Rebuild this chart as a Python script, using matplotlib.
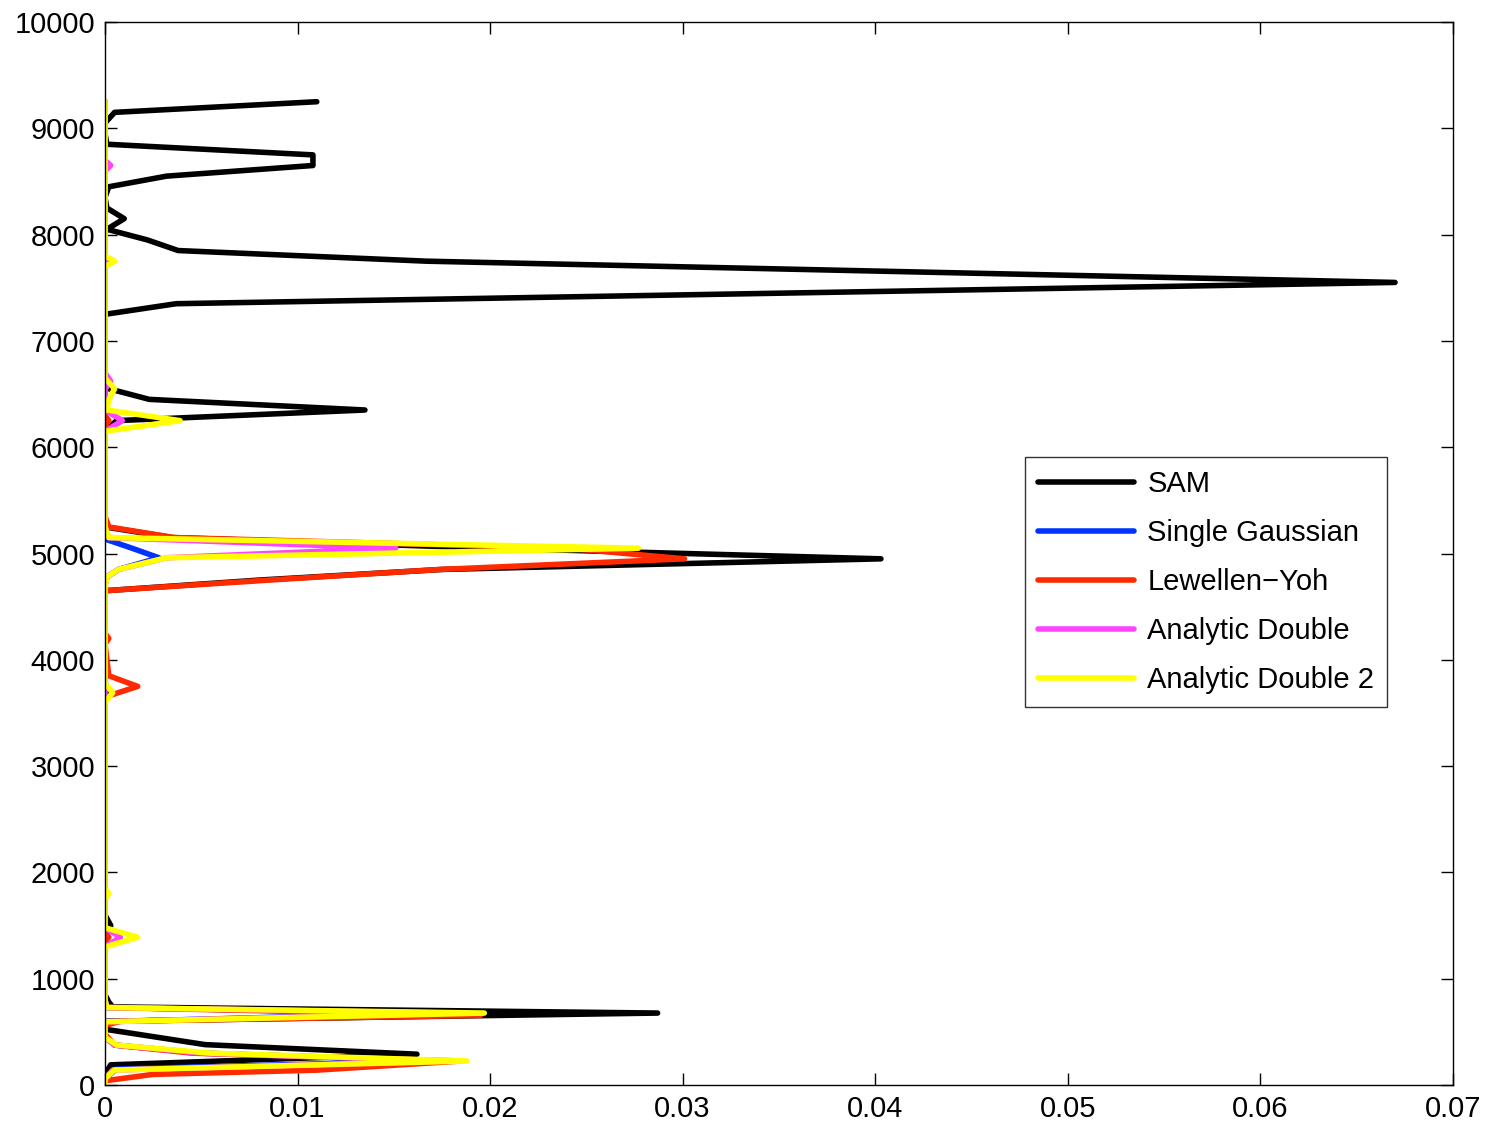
import matplotlib
matplotlib.use("Agg")
import matplotlib.pyplot as plt

# ---- data (height z, pdf value x) ----
sam_z = [0, 100, 190, 290, 380, 525, 600, 677, 735, 780, 850, 1400, 1500, 1600,
         3650, 3720, 3800, 4650, 4750, 4850, 4950, 5050, 5150, 5250, 5350,
         6150, 6250, 6350, 6450, 6550, 6650, 7150, 7250, 7350, 7450, 7550, 7650,
         7750, 7850, 7950, 8050, 8150, 8250, 8350, 8450, 8550, 8650, 8750, 8850,
         8950, 9050, 9150, 9250]
sam_x = [0, 0, 0.0003, 0.0162, 0.0052, 0, 0, 0.0287, 0.0004, 0.0002, 0, 0, 0.0003, 0,
         0, 0.0001, 0, 0, 0.008, 0.0175, 0.0403, 0.020, 0.0035, 0, 0,
         0, 0.0006, 0.0135, 0.0023, 0.0002, 0, 0, 0, 0.0037, 0.0354, 0.067, 0.0418,
         0.0167, 0.0038, 0.0022, 0.0001, 0.001, 0.0001, 0, 0.0002, 0.0032, 0.0108, 0.0108, 0.0001,
         0, 0, 0.0005, 0.011]

gauss_z = [0, 60, 150, 226, 300, 376, 450, 595, 677, 729, 800,
           4700, 4780, 4850, 4960, 5050, 5130, 5250, 9250]
gauss_x = [0, 0, 0.0006, 0.017, 0.005, 0.0005, 0, 0, 0.017, 0.0001, 0,
           0, 0.0001, 0.0007, 0.0028, 0.0014, 0.0001, 0, 0]

ly_z = [0, 40, 100, 140, 226, 300, 376, 480, 560, 600, 655, 730, 800,
        1350, 1390, 1430, 3650, 3750, 3850, 4150, 4200, 4250,
        4650, 4750, 4850, 4950, 5050, 5150, 5250, 5350,
        6200, 6250, 6300, 6550, 6600, 6650, 7700, 7750, 7800, 9250]
ly_x = [0, 0, 0.0025, 0.011, 0.0185, 0.0045, 0.0005, 0, 0, 0.0008, 0.0195, 0, 0,
        0, 0.0002, 0, 0, 0.0017, 0.0002, 0, 0.0002, 0,
        0, 0.0085, 0.0174, 0.0301, 0.024, 0.0036, 0.0002, 0,
        0, 0.0002, 0, 0, 0.0002, 0, 0, 0.0003, 0, 0]

ad_z = [0, 60, 141, 226, 300, 376, 450, 595, 677, 729, 800,
        1300, 1390, 1480, 4700, 4780, 4850, 4960, 5050, 5150, 5250,
        6150, 6250, 6350, 6550, 6620, 6700, 8600, 8650, 8700, 9250]
ad_x = [0, 0, 0.0004, 0.018, 0.005, 0.0005, 0, 0, 0.018, 0.0001, 0,
        0, 0.0008, 0, 0, 0.0001, 0.0007, 0.0032, 0.0151, 0.0002, 0,
        0, 0.0009, 0, 0, 0.0003, 0, 0, 0.0003, 0, 0]

ad2_z = [0, 60, 141, 226, 300, 376, 450, 595, 677, 729, 800,
         1300, 1390, 1480, 1750, 1800, 1850, 3600, 3690, 3780,
         4680, 4780, 4850, 4960, 5050, 5150, 5250,
         6150, 6250, 6350, 6450, 6550, 6650, 7700, 7750, 7800, 9250]
ad2_x = [0, 0, 0.0005, 0.0188, 0.0055, 0.0006, 0, 0, 0.0197, 0.0001, 0,
         0, 0.0017, 0, 0, 0.0002, 0, 0, 0.0004, 0,
         0, 0.0001, 0.0007, 0.0032, 0.0277, 0.0002, 0,
         0, 0.0039, 0.0001, 0.0002, 0.0005, 0, 0, 0.0005, 0, 0]

labels = ["SAM", "Single Gaussian", "Lewellen\u2212Yoh", "Analytic Double", "Analytic Double 2"]
colors = ["#000000", "#0033ff", "#ff2a00", "#ff44ff", "#ffff00"]

x_ticks = [0, 0.01, 0.02, 0.03, 0.04, 0.05, 0.06, 0.07]
x_ticklabels = ["0", "0.01", "0.02", "0.03", "0.04", "0.05", "0.06", "0.07"]
y_ticks = list(range(0, 10001, 1000))

plt.rcParams['font.family'] = ['Liberation Sans', 'DejaVu Sans']

fig = plt.figure(figsize=(14.87, 11.28), dpi=100)
ax = fig.add_axes([0.0706, 0.0381, 0.9064, 0.9424])

series = [(sam_x, sam_z), (gauss_x, gauss_z), (ly_x, ly_z), (ad_x, ad_z), (ad2_x, ad2_z)]
for (xs, zs), c, lab in zip(series, colors, labels):
    ax.plot(xs, zs, color=c, lw=4.0, label=lab, solid_capstyle='round', solid_joinstyle='round')

ax.set_xlim(0, 0.07)
ax.set_ylim(0, 10000)
ax.set_xticks(x_ticks)
ax.set_xticklabels(x_ticklabels)
ax.set_yticks(y_ticks)
ax.tick_params(direction='in', length=8.5, width=1, labelsize=21, top=True, right=True, pad=7)
for s in ax.spines.values():
    s.set_linewidth(1.0)

leg = ax.legend(loc='upper left', bbox_to_anchor=(0.6825, 0.5908), borderaxespad=0,
                fontsize=21, frameon=True, fancybox=False, edgecolor='black',
                handlelength=3.3, handletextpad=0.45, labelspacing=0.72, borderpad=0.45)
leg.get_frame().set_linewidth(1.0)

fig.savefig("out.png", dpi=100, facecolor='white')
